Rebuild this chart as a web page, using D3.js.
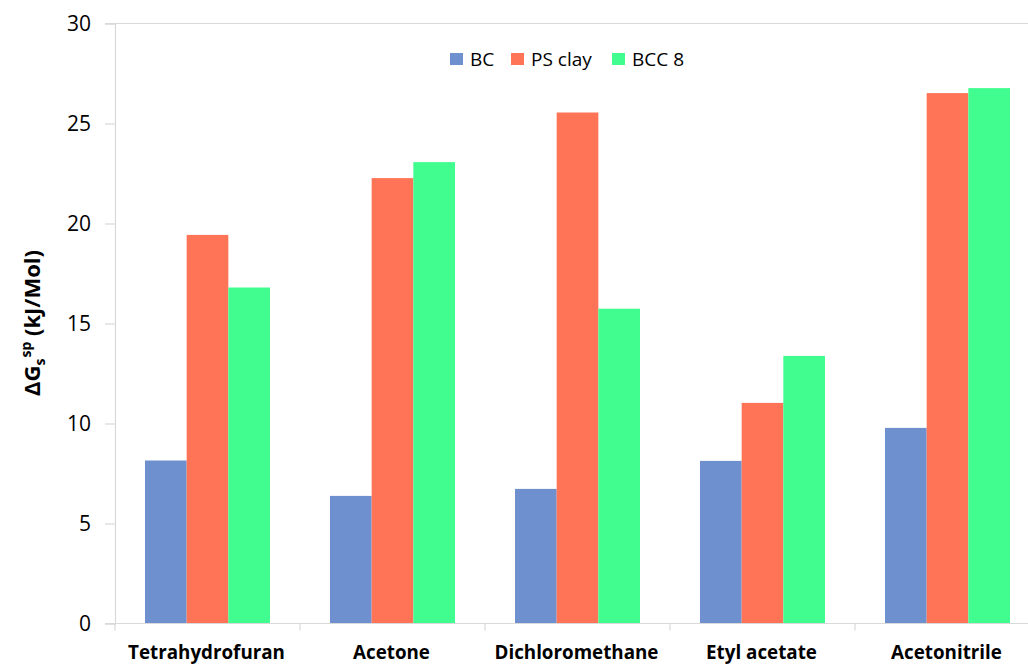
<!DOCTYPE html>
<html><head><meta charset="utf-8">
<script src="https://cdn.jsdelivr.net/npm/d3@7"></script>
<style>body{margin:0;background:#fff}svg{display:block}</style>
</head><body>
<script>
const categories = ["Tetrahydrofuran","Acetone","Dichloromethane","Etyl acetate","Acetonitrile"];
const seriesNames = ["BC","PS clay","BCC 8"];
const bcValues = [8.15, 6.38, 6.73, 8.13, 9.78];
const psClayValues = [19.43, 22.27, 25.55, 11.03, 26.52];
const bcc8Values = [16.8, 23.07, 15.74, 13.38, 26.77];
const yTicks = [0,5,10,15,20,25,30];
const colors = ["#6f90cf","#ff7356","#41fd90"];

const series = [bcValues, psClayValues, bcc8Values];
const W = 1028, H = 664;
const svg = d3.select("body").append("svg").attr("width", W).attr("height", H);
const font = "'Open Sans', 'Liberation Sans', sans-serif";

const x0 = d3.scaleBand().domain(categories).range([115, 1040]).paddingInner(0).paddingOuter(0);
const x1 = d3.scaleBand().domain(seriesNames).range([30, 185-30]);
const y = d3.scaleLinear().domain([0,30]).range([623.5, 23.5]);

// top border line
svg.append("line").attr("x1",105).attr("x2",W).attr("y1",y(30)).attr("y2",y(30)).attr("stroke","#d9d9d9").attr("stroke-width",1.2);

// y axis
const yAxis = svg.append("g").attr("transform","translate(115,0)")
  .call(d3.axisLeft(y).tickValues(yTicks).tickSize(10).tickPadding(14));
yAxis.select(".domain").attr("stroke","#d9d9d9").attr("stroke-width",1.2);
yAxis.selectAll(".tick line").attr("stroke","#d9d9d9").attr("stroke-width",1.2);
yAxis.selectAll("text").attr("font-family",font).attr("font-size",21).attr("fill","#000").attr("dy","0.35em");

// bars
categories.forEach((c,i)=>{
  series.forEach((s,j)=>{
    svg.append("rect")
      .attr("x", x0(c)+x1(seriesNames[j]))
      .attr("y", y(s[i]))
      .attr("width", x1.bandwidth())
      .attr("height", y(0)-y(s[i]))
      .attr("fill", colors[j]);
  });
});

// x axis
svg.append("line").attr("x1",105).attr("x2",W).attr("y1",y(0)).attr("y2",y(0)).attr("stroke","#d9d9d9").attr("stroke-width",1.2);
categories.forEach((c,i)=>{
  svg.append("line").attr("x1",x0(c)).attr("x2",x0(c)).attr("y1",y(0)).attr("y2",y(0)+7).attr("stroke","#d9d9d9").attr("stroke-width",1.2);
  svg.append("text").attr("x",x0(c)+x0.bandwidth()/2-1).attr("y",659)
    .attr("text-anchor","middle").attr("font-family",font).attr("font-weight","bold")
    .attr("font-size",18.8).text(c);
});

// y title
const yt = svg.append("text").attr("transform","translate(40,323) rotate(-90)")
  .attr("text-anchor","middle").attr("font-family",font).attr("font-weight","bold").attr("font-size",22);
yt.append("tspan").text("ΔG");
yt.append("tspan").attr("font-size",14).attr("dy",5).text("s");
yt.append("tspan").attr("font-size",14).attr("dy",-14).attr("dx",1).text("sp");
yt.append("tspan").attr("dy",9).text(" (kJ/Mol)");

// legend
const legX = [450, 511, 612];
seriesNames.forEach((n,j)=>{
  svg.append("rect").attr("x",legX[j]).attr("y",53).attr("width",13).attr("height",12).attr("fill",colors[j]);
  svg.append("text").attr("x",legX[j]+20).attr("y",66).attr("font-family",font).attr("font-size",19).attr("fill","#000").text(n);
});
</script>
</body></html>
